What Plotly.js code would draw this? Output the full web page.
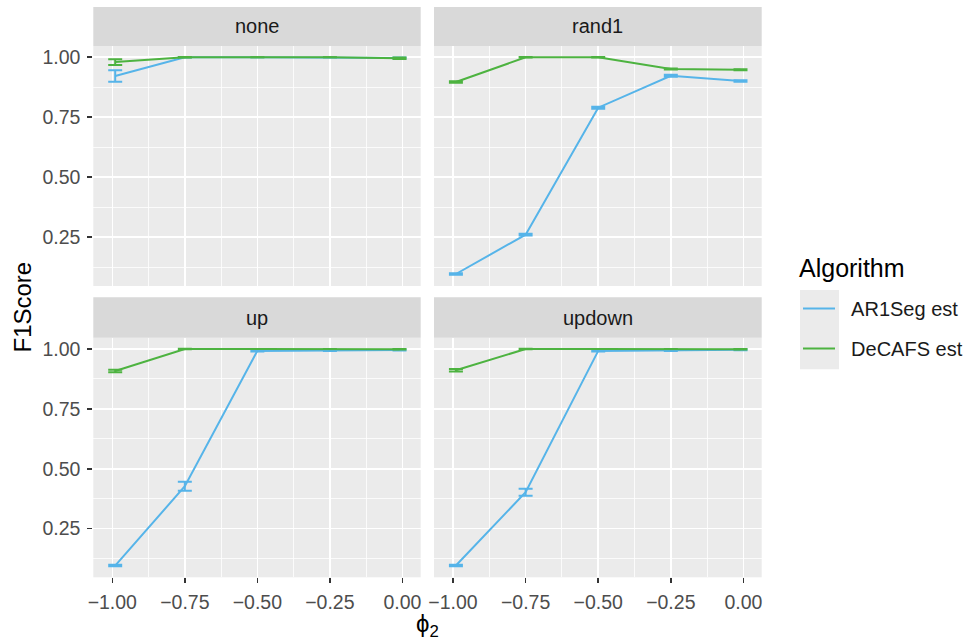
<!DOCTYPE html>
<html>
<head>
<meta charset="utf-8">
<script src="https://cdn.plot.ly/plotly-3.0.1.min.js"></script>
<style>html,body{margin:0;padding:0;background:#fff;}#chart{width:971px;height:641px;}</style>
</head>
<body>
<div id="chart"></div>
<script>
// ---- data ----
const phi = [-0.99, -0.75, -0.5, -0.25, -0.01];
const facets = ["none", "rand1", "up", "updown"];
const algorithms = ["AR1Seg est", "DeCAFS est"];

const none_AR1Seg = [0.922, 1.000, 1.000, 1.000, 0.997];
const none_AR1Seg_err = [0.024, 0.001, 0.000, 0.000, 0.002];
const none_DeCAFS = [0.980, 1.000, 1.000, 1.000, 0.996];
const none_DeCAFS_err = [0.012, 0.001, 0.000, 0.000, 0.003];

const rand1_AR1Seg = [0.097, 0.261, 0.790, 0.923, 0.901];
const rand1_AR1Seg_err = [0.003, 0.004, 0.004, 0.004, 0.003];
const rand1_DeCAFS = [0.897, 1.000, 1.000, 0.951, 0.948];
const rand1_DeCAFS_err = [0.003, 0.001, 0.001, 0.002, 0.002];

const up_AR1Seg = [0.096, 0.427, 0.992, 0.994, 0.996];
const up_AR1Seg_err = [0.003, 0.019, 0.003, 0.002, 0.002];
const up_DeCAFS = [0.908, 1.000, 1.000, 1.000, 0.999];
const up_DeCAFS_err = [0.005, 0.001, 0.000, 0.000, 0.001];

const updown_AR1Seg = [0.096, 0.402, 0.992, 0.994, 0.997];
const updown_AR1Seg_err = [0.003, 0.015, 0.003, 0.002, 0.002];
const updown_DeCAFS = [0.911, 1.000, 1.000, 1.000, 0.999];
const updown_DeCAFS_err = [0.005, 0.001, 0.000, 0.000, 0.001];

const xTickVals = [-1, -0.75, -0.5, -0.25, 0];
const yTickVals = [0.25, 0.5, 0.75, 1.0];
const legendTitle = "Algorithm";
const xTitle = "ϕ<sub>2</sub>";
const yTitle = "F1Score";

// ---- styling ----
const W = 971, H = 641;
const FONT = '"Liberation Sans", Arial, Helvetica, sans-serif';
const colors = ["#56B4E9", "#4DB340"];
const series = {
  none: [[none_AR1Seg, none_AR1Seg_err], [none_DeCAFS, none_DeCAFS_err]],
  rand1: [[rand1_AR1Seg, rand1_AR1Seg_err], [rand1_DeCAFS, rand1_DeCAFS_err]],
  up: [[up_AR1Seg, up_AR1Seg_err], [up_DeCAFS, up_DeCAFS_err]],
  updown: [[updown_AR1Seg, updown_AR1Seg_err], [updown_DeCAFS, updown_DeCAFS_err]]
};

// panel pixel boxes
const colX = [[93.3, 420.7], [434, 761.7]];
const rowY = [[46, 286], [337.7, 577.3]];
const stripY = [[7, 46], [297.3, 337.7]];
const px = v => v / W;
const py = v => 1 - v / H;
const PAD = "\u00a0\u00a0";

const traces = [];
facets.forEach((f, i) => {
  const n = i + 1;
  const xa = n === 1 ? 'x' : 'x' + n;
  const ya = n === 1 ? 'y' : 'y' + n;
  algorithms.forEach((alg, k) => {
    traces.push({
      type: 'scatter', mode: 'lines',
      x: phi, y: series[f][k][0],
      error_y: {type: 'data', array: series[f][k][1], visible: true, color: colors[k], thickness: 2, width: 7},
      line: {color: colors[k], width: 2},
      name: PAD + alg, legendgroup: alg, showlegend: i === 0,
      xaxis: xa, yaxis: ya, hoverinfo: 'skip'
    });
  });
});

const layout = {
  width: W, height: H,
  margin: {l: 0, r: 0, t: 0, b: 0},
  paper_bgcolor: '#FFFFFF',
  plot_bgcolor: '#EBEBEB',
  font: {family: FONT, color: '#4D4D4D'},
  showlegend: true,
  legend: {
    x: px(798), y: py(289), xanchor: 'left', yanchor: 'top',
    bgcolor: 'rgba(0,0,0,0)',
    font: {family: FONT, size: 20, color: '#1A1A1A'},
    tracegroupgap: 11, itemwidth: 32
  },
  shapes: [], annotations: []
};

facets.forEach((f, i) => {
  const n = i + 1;
  const r = Math.floor(i / 2), c = i % 2;
  const xk = n === 1 ? 'xaxis' : 'xaxis' + n;
  const yk = n === 1 ? 'yaxis' : 'yaxis' + n;
  const ya = n === 1 ? 'y' : 'y' + n;
  const xa = n === 1 ? 'x' : 'x' + n;
  layout[xk] = {
    domain: [px(colX[c][0]), px(colX[c][1])],
    anchor: ya,
    range: [-1.0655, 0.063],
    tickmode: 'array', tickvals: xTickVals, tickformat: '.2f',
    showticklabels: r === 1,
    ticks: r === 1 ? 'outside' : '', ticklen: 5, tickwidth: 1.6, tickcolor: '#333333',
    ticklabelstandoff: 2,
    tickfont: {family: FONT, size: 19.5, color: '#4D4D4D'},
    showgrid: true, gridcolor: '#FFFFFF', gridwidth: 1.6,
    minor: {tickmode: 'array', tickvals: [-0.875, -0.625, -0.375, -0.125], showgrid: true, gridcolor: '#FFFFFF', gridwidth: 0.8},
    zeroline: false, showline: false, fixedrange: true
  };
  layout[yk] = {
    domain: [py(rowY[r][1]), py(rowY[r][0])],
    anchor: xa,
    range: [0.047, 1.047],
    tickmode: 'array', tickvals: yTickVals, tickformat: '.2f',
    showticklabels: c === 0,
    ticks: c === 0 ? 'outside' : '', ticklen: 5, tickwidth: 1.6, tickcolor: '#333333',
    ticklabelstandoff: 3,
    tickfont: {family: FONT, size: 19.5, color: '#4D4D4D'},
    showgrid: true, gridcolor: '#FFFFFF', gridwidth: 1.6,
    minor: {tickmode: 'array', tickvals: [0.125, 0.375, 0.625, 0.875], showgrid: true, gridcolor: '#FFFFFF', gridwidth: 0.8},
    zeroline: false, showline: false, fixedrange: true
  };
  // strip
  layout.shapes.push({
    type: 'rect', xref: 'paper', yref: 'paper', layer: 'below',
    x0: px(colX[c][0]), x1: px(colX[c][1]), y0: py(stripY[r][1]), y1: py(stripY[r][0]),
    fillcolor: '#D9D9D9', line: {width: 0}
  });
  layout.annotations.push({
    xref: 'paper', yref: 'paper', showarrow: false,
    x: px((colX[c][0] + colX[c][1]) / 2), y: py((stripY[r][0] + stripY[r][1]) / 2),
    xanchor: 'center', yanchor: 'middle',
    text: f, font: {family: FONT, size: 20, color: '#1A1A1A'}
  });
});

// legend key background
layout.shapes.push({
  type: 'rect', xref: 'paper', yref: 'paper', layer: 'below',
  x0: px(800), x1: px(839), y0: py(369.3), y1: py(290),
  fillcolor: '#EBEBEB', line: {width: 0}
});

// legend title
layout.annotations.push({
  xref: 'paper', yref: 'paper', showarrow: false,
  x: px(797), y: py(268), xanchor: 'left', yanchor: 'middle',
  text: legendTitle, font: {family: FONT, size: 25, color: '#000000'}
});
// axis titles (shared across facets)
layout.annotations.push({
  xref: 'paper', yref: 'paper', showarrow: false,
  x: px(427.5), y: py(625), xanchor: 'center', yanchor: 'middle',
  text: xTitle, font: {family: FONT, size: 24, color: '#000000'}
});
layout.annotations.push({
  xref: 'paper', yref: 'paper', showarrow: false,
  x: px(21.5), y: py(307), xanchor: 'center', yanchor: 'middle', textangle: -90,
  text: yTitle, font: {family: FONT, size: 24, color: '#000000'}
});

Plotly.newPlot('chart', traces, layout, {displayModeBar: false, staticPlot: true});
</script>
</body>
</html>
